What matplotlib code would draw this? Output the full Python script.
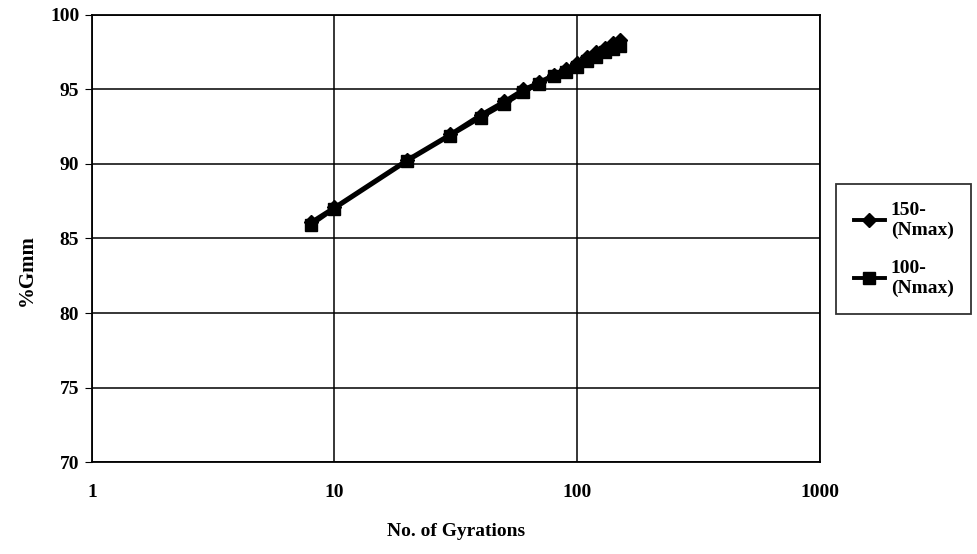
import matplotlib.pyplot as plt
import numpy as np

plt.rcParams["font.family"] = ["Liberation Serif", "DejaVu Serif"]
plt.rcParams["font.weight"] = "bold"

gyrations = [8, 10, 20, 30, 40, 50, 60, 70, 80, 90, 100, 110, 120, 130, 140, 150]
gmm_150 = [86.1, 87.1, 90.3, 92.0, 93.3, 94.2, 95.0, 95.5, 96.0, 96.4, 96.8, 97.2, 97.5, 97.8, 98.1, 98.3]
gmm_100 = [85.9, 87.0, 90.2, 91.9, 93.1, 94.0, 94.8, 95.4, 95.9, 96.2, 96.5, 96.9, 97.2, 97.5, 97.7, 97.9]

fig = plt.figure(figsize=(9.77, 5.54), dpi=100)
ax = fig.add_axes([0.094, 0.166, 0.745, 0.807])

ax.plot(gyrations, gmm_150, color="black", lw=2.8, marker="D", ms=7, label="150-\n(Nmax)")
ax.plot(gyrations, gmm_100, color="black", lw=2.8, marker="s", ms=8, label="100-\n(Nmax)")

ax.set_xscale("log")
ax.set_xlim(1, 1000)
ax.set_ylim(70, 100)
ax.set_yticks(np.arange(70, 101, 5))
ax.set_xticks([1, 10, 100, 1000])
ax.set_xticklabels(["1", "10", "100", "1000"])
ax.minorticks_off()
ax.grid(True, color="black", lw=1.1)
for s in ax.spines.values():
    s.set_color("black")
    s.set_linewidth(1.3)
ax.tick_params(axis="y", direction="out", length=5, color="black", labelsize=14, pad=4)
ax.tick_params(axis="x", length=0, labelsize=14, pad=16)

ax.set_xlabel("No. of Gyrations", fontsize=14, fontweight="bold", labelpad=16)
ax.set_ylabel("%Gmm", fontsize=15, fontweight="bold")
ax.yaxis.set_label_coords(-0.075, 0.43)

leg = fig.legend(loc="center left", bbox_to_anchor=(0.846, 0.55), fontsize=14,
                 frameon=True, fancybox=False, edgecolor="black", handlelength=1.6,
                 labelspacing=1.1, borderpad=0.9, handletextpad=0.3)
leg.get_frame().set_linewidth(1.3)

fig.savefig("out.png", dpi=100)
